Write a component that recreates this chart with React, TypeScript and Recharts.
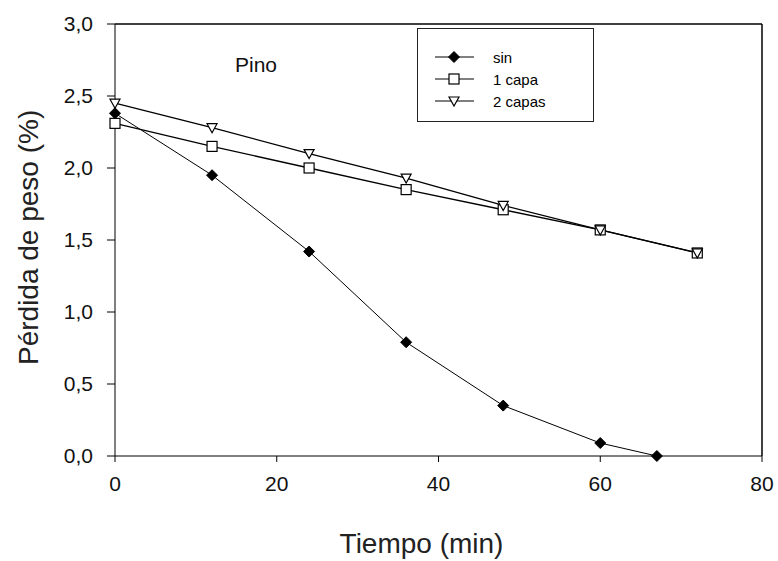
import React from "react";
import { LineChart, Line, XAxis, YAxis, ReferenceLine } from "recharts";

const sinTime = [0, 12, 24, 36, 48, 60, 67];
const sinLoss = [2.38, 1.95, 1.42, 0.79, 0.35, 0.09, 0.0];
const capaTime = [0, 12, 24, 36, 48, 60, 72];
const unaCapaLoss = [2.31, 2.15, 2.0, 1.85, 1.71, 1.57, 1.41];
const dosCapasLoss = [2.45, 2.28, 2.1, 1.93, 1.74, 1.57, 1.41];
const xTicks = [0, 20, 40, 60, 80];
const yTicks = [0, 0.5, 1, 1.5, 2, 2.5, 3];

const sinData = sinTime.map((t, i) => ({ t, v: sinLoss[i] }));
const unaData = capaTime.map((t, i) => ({ t, v: unaCapaLoss[i] }));
const dosData = capaTime.map((t, i) => ({ t, v: dosCapasLoss[i] }));

const FONT = "'Liberation Sans', Arial, sans-serif";

const Diamond = (p: any) => {
  const { cx, cy } = p;
  if (cx == null || cy == null) return null;
  return <path d={`M${cx},${cy - 5.5}L${cx + 5.5},${cy}L${cx},${cy + 5.5}L${cx - 5.5},${cy}Z`} fill="#000" stroke="#000" />;
};
const Square = (p: any) => {
  const { cx, cy } = p;
  if (cx == null || cy == null) return null;
  return <rect x={cx - 5} y={cy - 5} width={10} height={10} fill="#fff" stroke="#000" strokeWidth={1.2} />;
};
const TriDown = (p: any) => {
  const { cx, cy } = p;
  if (cx == null || cy == null) return null;
  return <path d={`M${cx - 5},${cy - 4}L${cx + 5},${cy - 4}L${cx},${cy + 5}Z`} fill="#fff" stroke="#000" strokeWidth={1.2} />;
};

const legendItems = [
  { label: "sin", Mark: Diamond },
  { label: "1 capa", Mark: Square },
  { label: "2 capas", Mark: TriDown },
];

const LegendBox = () => (
  <div style={{ position: "absolute", left: 417, top: 28, width: 177, height: 94, border: "1.5px solid #222", boxSizing: "border-box", background: "#fff", paddingTop: 17, fontFamily: FONT, fontSize: 15 }}>
    {legendItems.map(({ label, Mark }) => (
      <div key={label} style={{ display: "flex", alignItems: "center", height: 22 }}>
        <svg width={42} height={16} style={{ marginLeft: 16 }}>
          <line x1={1} y1={8} x2={40} y2={8} stroke="#000" strokeWidth={1.2} />
          <Mark cx={20} cy={8} />
        </svg>
        <span style={{ marginLeft: 17 }}>{label}</span>
      </div>
    ))}
  </div>
);

const fmt = (v: number) => v.toFixed(1).replace(".", ",");

export default function App() {
  return (
    <div style={{ position: "absolute", left: 0, top: 0, width: 778, height: 561, background: "#fff" }}>
      <LineChart width={778} height={561} margin={{ top: 24, right: 16, bottom: 0, left: 0 }}>
        <XAxis
          type="number"
          dataKey="t"
          domain={[0, 80]}
          ticks={xTicks}
          stroke="#000"
          tickSize={6}
          tick={{ fill: "#111", fontSize: 21, fontFamily: FONT }}
          tickMargin={14}
          height={105}
          label={{ value: "Tiempo (min)", position: "insideBottom", offset: 8, dx: -17, fill: "#222", fontSize: 28, fontFamily: FONT }}
        />
        <YAxis
          type="number"
          domain={[0, 3]}
          ticks={yTicks}
          tickFormatter={fmt}
          stroke="#000"
          tickSize={8}
          tick={{ fill: "#111", fontSize: 21, fontFamily: FONT }}
          tickMargin={14}
          width={115}
          label={{ value: "Pérdida de peso (%)", angle: -90, position: "insideLeft", offset: 28, dy: 125, fill: "#222", fontSize: 28, fontFamily: FONT }}
        />
        <ReferenceLine y={3} stroke="#000" strokeWidth={1.5} />
        <ReferenceLine x={80} stroke="#000" strokeWidth={1.5} />
        <Line data={sinData} dataKey="v" name="sin" type="linear" stroke="#000" strokeWidth={1} dot={<Diamond />} isAnimationActive={false} />
        <Line data={unaData} dataKey="v" name="1 capa" type="linear" stroke="#000" strokeWidth={1.3} dot={<Square />} isAnimationActive={false} />
        <Line data={dosData} dataKey="v" name="2 capas" type="linear" stroke="#000" strokeWidth={1.3} dot={<TriDown />} isAnimationActive={false} />
      </LineChart>
      <LegendBox />
      <div style={{ position: "absolute", left: 235, top: 53, fontFamily: FONT, fontSize: 21, color: "#111" }}>Pino</div>
    </div>
  );
}
